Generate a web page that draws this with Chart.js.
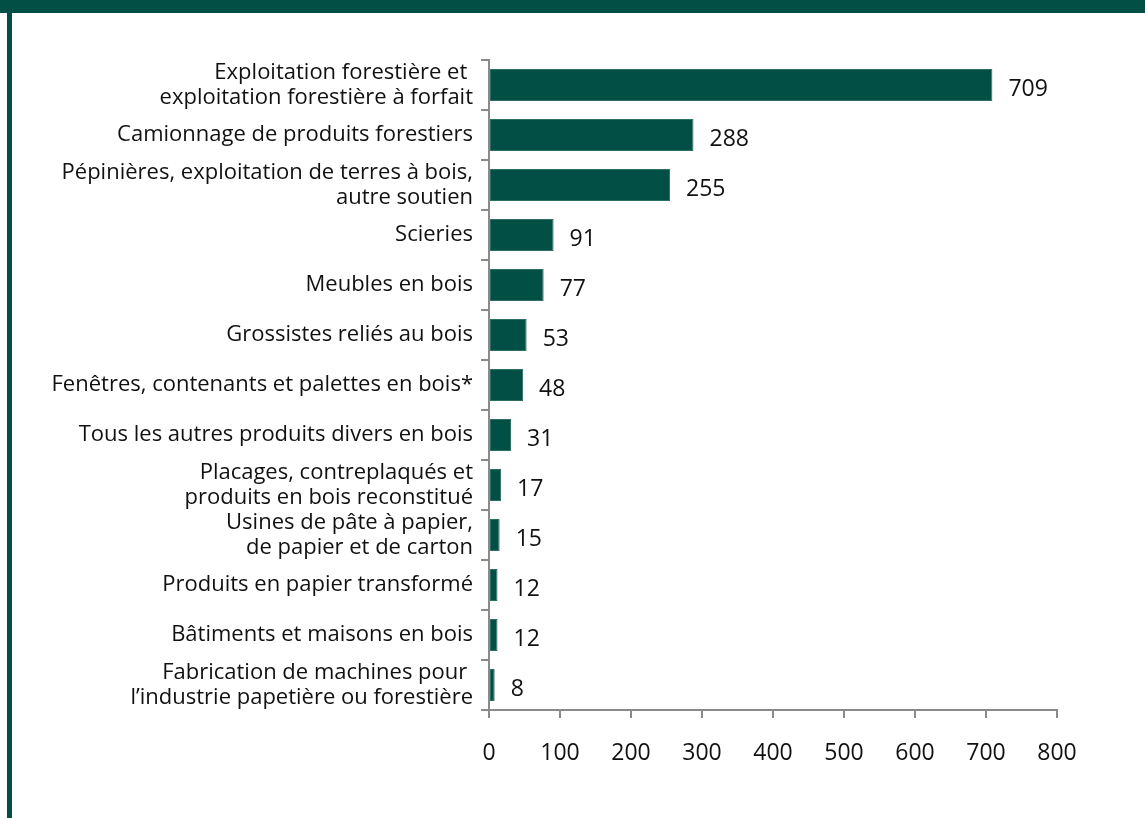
<!DOCTYPE html>
<html>
<head>
<meta charset="utf-8">
<script src="https://cdn.jsdelivr.net/npm/chart.js@4.4.1/dist/chart.umd.min.js"></script>
<style>
  html, body { margin: 0; padding: 0; background: #fff; }
  #wrap { width: 1145px; height: 818px; }
</style>
</head>
<body>
<div id="wrap"><canvas id="chart"></canvas></div>
<script>
const categories = [
    ['Exploitation forestière et ', 'exploitation forestière à forfait'],
    'Camionnage de produits forestiers',
    ['Pépinières, exploitation de terres à bois,', 'autre soutien'],
    'Scieries',
    'Meubles en bois',
    'Grossistes reliés au bois',
    'Fenêtres, contenants et palettes en bois*',
    'Tous les autres produits divers en bois',
    ['Placages, contreplaqués et', 'produits en bois reconstitué'],
    ['Usines de pâte à papier,', 'de papier et de carton'],
    'Produits en papier transformé',
    'Bâtiments et maisons en bois',
    ['Fabrication de machines pour ', 'l’industrie papetière ou forestière']
];
const values = [709, 288, 255, 91, 77, 53, 48, 31, 17, 15, 12, 12, 8];
const xMin = 0;
const xMax = 800;
const xStep = 100;

const green = '#014f45';
const axisGray = '#8a8a8a';
const fontFamily = '"Open Sans", "Noto Sans", sans-serif';

// green frame along the top and left edge
const framePlugin = {
    id: 'frame',
    beforeDraw(chart) {
        const ctx = chart.ctx;
        ctx.save();
        ctx.fillStyle = '#fff';
        ctx.fillRect(0, 0, chart.width, chart.height);
        ctx.fillStyle = green;
        ctx.fillRect(0, 0, chart.width, 13);
        ctx.fillRect(7, 0, 5, chart.height);
        ctx.restore();
    }
};

// value written after the end of each bar
const valueLabels = {
    id: 'valueLabels',
    afterDatasetsDraw(chart) {
        const ctx = chart.ctx;
        const meta = chart.getDatasetMeta(0);
        ctx.save();
        ctx.font = '23px ' + fontFamily;
        ctx.fillStyle = '#111';
        ctx.textAlign = 'left';
        ctx.textBaseline = 'middle';
        meta.data.forEach((bar, i) => {
            ctx.fillText(String(values[i]), bar.x + 16, bar.y + 4);
        });
        ctx.restore();
    }
};

new Chart(document.getElementById('chart'), {
    type: 'bar',
    data: {
        labels: categories,
        datasets: [{
            data: values,
            backgroundColor: green,
            borderColor: '#2f7065',
            borderWidth: 1,
            borderSkipped: false,
            categoryPercentage: 1,
            barPercentage: 0.64
        }]
    },
    options: {
        indexAxis: 'y',
        responsive: true,
        maintainAspectRatio: false,
        animation: false,
        layout: { padding: { top: 60, right: 88, bottom: 0, left: 0 } },
        plugins: {
            legend: { display: false },
            tooltip: { enabled: false }
        },
        scales: {
            x: {
                min: xMin,
                max: xMax,
                afterFit(scale) { scale.height = 108; },
                ticks: {
                    stepSize: xStep,
                    color: '#111',
                    padding: 22,
                    font: { family: fontFamily, size: 23 }
                },
                grid: {
                    drawOnChartArea: false,
                    color: axisGray,
                    lineWidth: 2,
                    tickLength: 8
                },
                border: { color: axisGray, width: 2 }
            },
            y: {
                afterFit(scale) { scale.width = 489; },
                ticks: {
                    autoSkip: false,
                    color: '#111',
                    padding: 8,
                    font: { family: fontFamily, size: 22, lineHeight: 1.15 }
                },
                grid: {
                    offset: true,
                    drawOnChartArea: false,
                    color: axisGray,
                    lineWidth: 2,
                    tickLength: 8
                },
                border: { color: axisGray, width: 2 }
            }
        }
    },
    plugins: [framePlugin, valueLabels]
});
</script>
</body>
</html>
